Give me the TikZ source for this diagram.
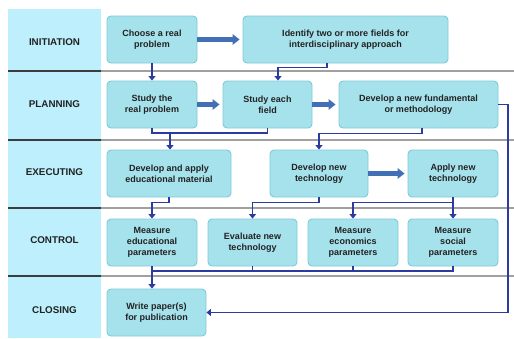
\documentclass[tikz,border=0pt]{standalone}
\usepackage{fontspec}
\setmainfont{Liberation Sans}
\usetikzlibrary{arrows.meta}

\definecolor{panelblue}{HTML}{BDF0FC}
\definecolor{boxfill}{HTML}{A6E2EC}
\definecolor{boxline}{HTML}{7CCAD8}
\definecolor{linkblue}{HTML}{2B3C9E}
\definecolor{flowblue}{HTML}{4270B6}
\definecolor{sepdark}{HTML}{3C3C3C}
\definecolor{seplight}{HTML}{A0A0A0}
\definecolor{inkgray}{HTML}{222222}

\begin{document}
\begin{tikzpicture}[x=1pt,y=-1pt,
  stagebox/.style={draw=boxline, fill=boxfill, line width=0.9pt, rounded corners=4pt,
    minimum height=47pt, inner sep=0pt, align=center, text=inkgray,
    font=\fontsize{9}{11}\selectfont\bfseries},
  phase/.style={font=\fontsize{9.8}{12}\selectfont\bfseries, inner sep=0pt, text=inkgray},
  link/.style={draw=linkblue, line width=1.7pt},
  linkarrow/.style={link, -{Triangle[length=4.5pt,width=7pt]}},
  flow/.style={draw=flowblue, line width=4.5pt, -{Triangle[length=7pt,width=10.5pt]}, shorten >=3pt},
  ]
\useasboundingbox (0,0) rectangle (514,338);

% phase column
\fill[panelblue] (8,9) rectangle (101,338);

% row separators
\foreach \yy in {71,139.5,208,276}{
  \draw[sepdark, line width=2pt] (8,\yy) -- (101,\yy);
  \draw[seplight, line width=2pt] (101,\yy) -- (514,\yy);
}

% phase labels
\node[phase] (lbinit) at (54.5,42) {INITIATION};
\node[phase] (lbplan) at (54.5,104) {PLANNING};
\node[phase] (lbexec) at (54.5,172) {EXECUTING};
\node[phase] (lbctrl) at (54.5,240) {CONTROL};
\node[phase] (lbclose) at (54.5,310) {CLOSING};

% initiation
\node[stagebox, minimum width=90pt] (choose) at (152,39.5) {Choose a real\\problem};
\node[stagebox, minimum width=205pt] (identify) at (345.5,39.5) {Identify two or more fields for\\interdisciplinary approach};

% planning
\node[stagebox, minimum width=90pt] (studyreal) at (152,104.5) {Study the\\real problem};
\node[stagebox, minimum width=89pt] (studyfield) at (267.5,104.5) {Study each\\field};
\node[stagebox, minimum width=159pt] (devfund) at (418.5,104.5) {Develop a new fundamental\\or methodology};

% executing
\node[stagebox, minimum width=124pt] (devedu) at (169,173.5) {Develop and apply\\educational material};
\node[stagebox, minimum width=98pt] (devtech) at (319,173.5) {Develop new\\technology};
\node[stagebox, minimum width=90pt] (applytech) at (453,173.5) {Apply new\\technology};

% control
\node[stagebox, minimum width=90pt] (measedu) at (152,242.5) {Measure\\educational\\parameters};
\node[stagebox, minimum width=89pt] (evaltech) at (252.5,242.5) {Evaluate new\\technology};
\node[stagebox, minimum width=90pt] (measecon) at (353,242.5) {Measure\\economics\\parameters};
\node[stagebox, minimum width=90pt] (meassoc) at (453,242.5) {Measure\\social\\parameters};

% closing
\node[stagebox, minimum width=99pt] (writepaper) at (156.5,312.5) {Write paper(s)\\for publication};

% main flow arrows
\draw[flow] (choose.east) -- (identify.west);
\draw[flow] (studyreal.east) -- (studyfield.west);
\draw[flow] (studyfield.east) -- (devfund.west);
\draw[flow] (devtech.east) -- (applytech.west);

% initiation -> planning
\draw[linkarrow] (choose.south) -- (studyreal.north);
\draw[linkarrow] ([xshift=-18.5pt]identify.south) -- ++(0,4) -| ([xshift=10.5pt]studyfield.north);

% planning -> executing
\coordinate (planjoin) at (170,133);
\draw[link] (studyreal.south) |- (studyfield.south |- planjoin) -- (studyfield.south);
\draw[linkarrow] (planjoin) -- (planjoin |- devedu.north);
\draw[linkarrow] ([xshift=3.5pt]devfund.south) -- ++(0,5) -| (devtech.north);

% planning -> closing along the right edge
\coordinate (rail) at (508,0);
\draw[linkarrow] (devfund.east) -| (rail |- writepaper.east) -- (writepaper.east);

% executing -> control
\draw[linkarrow] (devedu.south) -- ++(0,5) -| (measedu.north);
\draw[linkarrow] (devtech.south) -- ++(0,5) -| (evaltech.north);
\draw[linkarrow] (applytech.south) -- (meassoc.north);
\draw[linkarrow] ([yshift=-5pt]applytech.south) -| (measecon.north);

% control -> closing
\coordinate (closejoin) at (0,271);
\draw[link] (measedu.south |- closejoin) -- (meassoc.south |- closejoin) -- (meassoc.south);
\draw[link] (evaltech.south) -- (evaltech.south |- closejoin);
\draw[link] (measecon.south) -- (measecon.south |- closejoin);
\draw[linkarrow] (measedu.south) -- (measedu.south |- writepaper.north);
\end{tikzpicture}
\end{document}
